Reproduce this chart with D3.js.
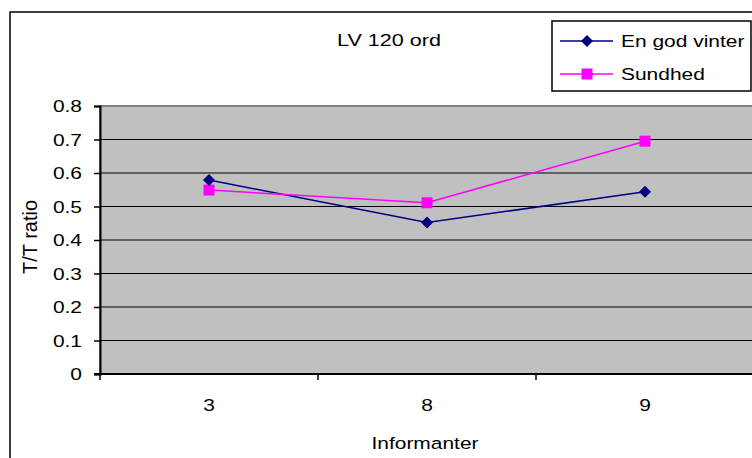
<!DOCTYPE html>
<html>
<head>
<meta charset="utf-8">
<script src="https://cdn.jsdelivr.net/npm/d3@7"></script>
<style>
  body { margin: 0; background: #fff; }
  text { font-family: "Liberation Sans", Arial, sans-serif; fill: #000; }
</style>
</head>
<body>
<script>
// chart values
const categories = ["3", "8", "9"];
const vinter = [0.579, 0.452, 0.544];
const sundhed = [0.549, 0.511, 0.695];
const yTicks = [0, 0.1, 0.2, 0.3, 0.4, 0.5, 0.6, 0.7, 0.8];
const seriesNames = ["En god vinter", "Sundhed"];

const w = 752, h = 458;
const plot = {left: 100, top: 106, right: 754, bottom: 374};
const stretch = 1.27; // text looks horizontally stretched in the original
const fs = 16.5;

const svg = d3.select("body").append("svg")
    .attr("width", w)
    .attr("height", h);

// outer chart border (runs off the right and bottom)
svg.append("rect")
    .attr("x", 10).attr("y", 12)
    .attr("width", 800).attr("height", 500)
    .attr("fill", "#fff")
    .attr("stroke", "#000")
    .attr("stroke-width", 1.5);

const x = d3.scaleBand()
    .domain(categories)
    .range([plot.left, plot.right]);

const y = d3.scaleLinear()
    .domain([0, 0.8])
    .range([plot.bottom, plot.top]);

// plot area
svg.append("rect")
    .attr("x", plot.left).attr("y", plot.top)
    .attr("width", plot.right - plot.left)
    .attr("height", plot.bottom - plot.top)
    .attr("fill", "#c0c0c0")
    .attr("stroke", "#808080")
    .attr("stroke-width", 2);

// gridlines
svg.append("g")
    .selectAll("line")
    .data(yTicks.filter(d => d > 0 && d < 0.8))
    .enter().append("line")
    .attr("x1", plot.left).attr("x2", plot.right)
    .attr("y1", d => y(d)).attr("y2", d => y(d))
    .attr("stroke", "#000")
    .attr("stroke-width", 1.2);

// stretched text helper
function label(g, tx, ty, str, anchor, size) {
    return g.append("text")
        .attr("transform", `translate(${tx},${ty}) scale(${stretch},1)`)
        .attr("text-anchor", anchor)
        .attr("font-size", size || fs)
        .text(str);
}

// y axis
const yAxis = svg.append("g")
    .attr("transform", `translate(${plot.left},0)`)
    .call(d3.axisLeft(y).tickValues(yTicks).tickSize(6).tickFormat(d3.format("")));
yAxis.select(".domain").attr("stroke", "#000").attr("stroke-width", 2);
yAxis.selectAll(".tick line").attr("stroke", "#000").attr("stroke-width", 1.5);
yAxis.selectAll(".tick text").remove();
yTicks.forEach(t => label(svg, 82, y(t) + 6, d3.format("")(t), "end"));

// x axis: ticks sit on the category boundaries
const xAxisG = svg.append("g");
xAxisG.append("line")
    .attr("x1", plot.left - 6).attr("x2", plot.right)
    .attr("y1", y(0)).attr("y2", y(0))
    .attr("stroke", "#000").attr("stroke-width", 2);
xAxisG.selectAll(".xt")
    .data(categories)
    .enter().append("line")
    .attr("class", "xt")
    .attr("x1", d => x(d)).attr("x2", d => x(d))
    .attr("y1", y(0)).attr("y2", y(0) + 6)
    .attr("stroke", "#000").attr("stroke-width", 1.5);
categories.forEach(c => label(svg, x(c) + x.bandwidth() / 2, 411, c, "middle"));

// titles
label(svg, 389, 46, "LV 120 ord", "middle", 17);
label(svg, 425, 449, "Informanter", "middle");
svg.append("text")
    .attr("transform", "translate(37,237) rotate(-90)")
    .attr("text-anchor", "middle")
    .attr("font-size", 20)
    .text("T/T ratio");

// series
const cx = (d, i) => x(categories[i]) + x.bandwidth() / 2;
const line = d3.line().x(cx).y(d => y(d));
const diamond = "M0,-6L6,0L0,6L-6,0Z";
const square = d3.symbol().type(d3.symbolSquare).size(121)();

svg.append("path")
    .datum(vinter)
    .attr("fill", "none")
    .attr("stroke", "#000080")
    .attr("stroke-width", 1.5)
    .attr("d", line);

svg.append("path")
    .datum(sundhed)
    .attr("fill", "none")
    .attr("stroke", "#ff00ff")
    .attr("stroke-width", 1.5)
    .attr("d", line);

svg.append("g").selectAll("path")
    .data(sundhed)
    .enter().append("path")
    .attr("d", square)
    .attr("transform", (d, i) => `translate(${cx(d, i)},${y(d)})`)
    .attr("fill", "#ff00ff");

svg.append("g").selectAll("path")
    .data(vinter)
    .enter().append("path")
    .attr("d", diamond)
    .attr("transform", (d, i) => `translate(${cx(d, i)},${y(d)})`)
    .attr("fill", "#000080");

// legend
const legend = svg.append("g");
legend.append("rect")
    .attr("x", 552).attr("y", 21)
    .attr("width", 199).attr("height", 70)
    .attr("fill", "#fff")
    .attr("stroke", "#000")
    .attr("stroke-width", 1.5);

const legendColors = ["#000080", "#ff00ff"];
const legendMarks = [diamond, square];
seriesNames.forEach((name, i) => {
    const ly = 41 + i * 33;
    legend.append("line")
        .attr("x1", 560).attr("x2", 613)
        .attr("y1", ly).attr("y2", ly)
        .attr("stroke", legendColors[i])
        .attr("stroke-width", 1.5);
    legend.append("path")
        .attr("d", legendMarks[i])
        .attr("transform", `translate(587,${ly})`)
        .attr("fill", legendColors[i]);
    label(legend, 621, ly + 6, name, "start");
});
</script>
</body>
</html>
